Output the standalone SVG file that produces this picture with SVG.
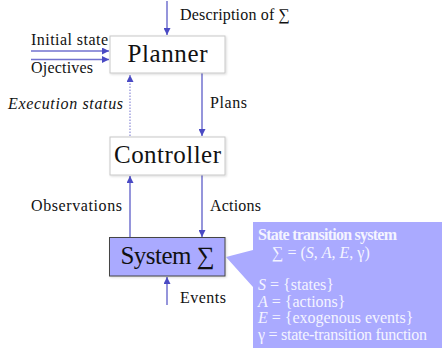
<svg xmlns="http://www.w3.org/2000/svg" width="446" height="350" viewBox="0 0 446 350">
<defs>
<marker id="ah" viewBox="0 0 10 10" refX="10" refY="5" markerWidth="7" markerHeight="7" markerUnits="userSpaceOnUse" orient="auto">
<path d="M0,0 L10,5 L0,10 z" fill="#4a4ac4"/>
</marker>
<filter id="sh" x="-10%" y="-10%" width="130%" height="140%">
<feDropShadow dx="1" dy="1" stdDeviation="1" flood-color="#000" flood-opacity="0.15"/>
</filter>
</defs>
<style>
.lbl{font-family:"Liberation Serif","DejaVu Serif",serif;font-size:16px;fill:#111}
.big{font-family:"Liberation Serif","DejaVu Serif",serif;font-size:25px;fill:#111}
.box{fill:#fff;stroke:#c8c8c8;stroke-width:1}
.sys{fill:#aaaaff;stroke:#444;stroke-width:1}
.ln{stroke:#7272cf;stroke-width:1.5;fill:none;marker-end:url(#ah)}
.dot{stroke:#8a8ad8;stroke-width:1.2;fill:none;stroke-dasharray:1.5 1.5;marker-end:url(#ah)}
.ct{font-family:"Liberation Serif","DejaVu Serif",serif;font-size:16px;fill:#f4f4ff}
.it{font-style:italic}
</style>
<g id="connectors">
<line class="ln" x1="167" y1="1" x2="167" y2="35"/>
<line class="ln" x1="31" y1="51" x2="109" y2="51"/>
<line class="ln" x1="31" y1="59.5" x2="109" y2="59.5"/>
<line class="dot" x1="130" y1="136" x2="130" y2="75"/>
<line class="ln" x1="202" y1="73" x2="202" y2="136"/>
<line class="ln" x1="130" y1="237" x2="130" y2="176"/>
<line class="ln" x1="202" y1="175" x2="202" y2="237"/>
<line class="ln" x1="167" y1="305" x2="167" y2="277"/>
</g>
<g id="planner">
<rect class="box" x="110" y="36" width="115" height="37" filter="url(#sh)"/>
<text class="big" x="167.5" y="62" text-anchor="middle" textLength="80">Planner</text>
</g>
<g id="controller">
<rect class="box" x="110" y="137" width="115" height="38" filter="url(#sh)"/>
<text class="big" x="167.5" y="163" text-anchor="middle" textLength="107">Controller</text>
</g>
<g id="system">
<rect class="sys" x="109.5" y="237.5" width="115.5" height="38.5" filter="url(#sh)"/>
<text class="big" x="167.5" y="264" text-anchor="middle" textLength="94">System ∑</text>
</g>
<g id="labels">
<text class="lbl" x="180" y="20" textLength="110">Description of ∑</text>
<text class="lbl" x="31" y="45" textLength="77">Initial state</text>
<text class="lbl" x="31" y="73" textLength="62">Ojectives</text>
<text class="lbl" x="8" y="109" font-style="italic" textLength="115">Execution status</text>
<text class="lbl" x="210" y="108" textLength="37">Plans</text>
<text class="lbl" x="31" y="211" textLength="91">Observations</text>
<text class="lbl" x="210" y="211" textLength="51">Actions</text>
<text class="lbl" x="180" y="303" textLength="46">Events</text>
</g>
<g id="callout">
<path d="M253,222 L442,222 L442,348 L253,348 L253,287 L226,257 L253,250 Z" fill="#aaaaff"/>
<text class="ct" x="258" y="240" font-weight="bold" font-size="14.5" textLength="139">State transition system</text>
<text class="ct" x="272" y="258">∑ = (<tspan class="it">S</tspan>, <tspan class="it">A</tspan>, <tspan class="it">E</tspan>, γ)</text>
<text class="ct" x="258" y="290"><tspan class="it">S</tspan> = {states}</text>
<text class="ct" x="258" y="306.5"><tspan class="it">A</tspan> = {actions}</text>
<text class="ct" x="258" y="323"><tspan class="it">E</tspan> = {exogenous events}</text>
<text class="ct" x="258" y="340" textLength="169">γ = state-transition function</text>
</g>
</svg>
